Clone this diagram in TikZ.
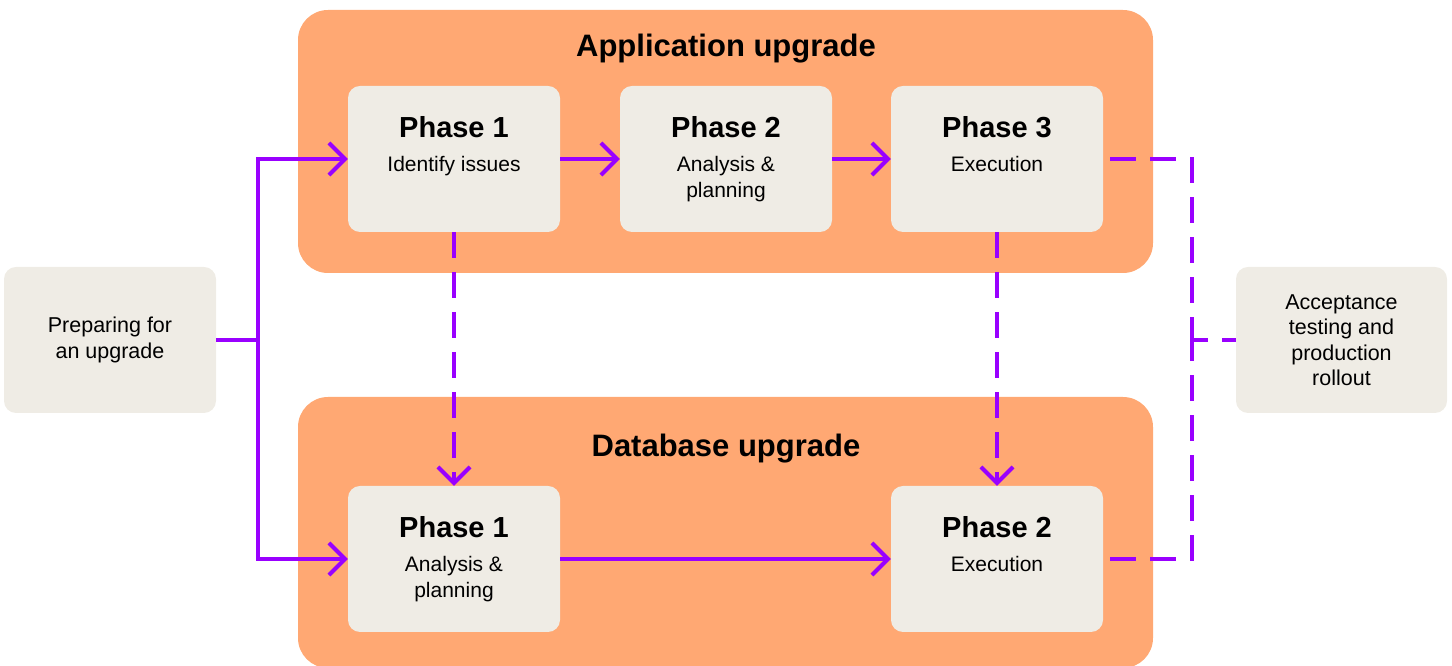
\documentclass[tikz,border=0pt]{standalone}
\usepackage{fontspec}
\setmainfont{Liberation Sans}
\usetikzlibrary{arrows.meta}

\begin{document}
\begin{tikzpicture}[x=1pt,y=1pt,
  group/.style={fill=groupColor,rounded corners=30pt,inner sep=0pt},
  box/.style={fill=boxColor,rounded corners=12pt,inner sep=0pt,
    minimum width=212pt,minimum height=146pt,align=center,
    font=\fontsize{21.5}{25.5}\selectfont},
  grouptitle/.style={anchor=base,inner sep=0pt,font=\fontsize{31}{36}\selectfont\bfseries},
  phasetitle/.style={anchor=base,inner sep=0pt,font=\fontsize{29}{34}\selectfont\bfseries},
  phasetext/.style={anchor=north,inner sep=0pt,align=center,font=\fontsize{21}{26}\selectfont},
  flow/.style={draw=flowColor,line width=4pt},
  dashflow/.style={flow,dash pattern=on 26pt off 14pt},
  tip/.style={-{Straight Barb[length=16pt,width=32pt]}}]
\definecolor{groupColor}{RGB}{255,168,115}
\definecolor{boxColor}{RGB}{239,236,229}
\definecolor{flowColor}{RGB}{153,0,255}
\path[use as bounding box] (0,0) rectangle (1452,666);
\begin{scope}
\path[clip] (0,0) rectangle (1452,666);

% the two upgrade tracks
\node[group,minimum width=855pt,minimum height=263pt] (app) at (725.5,524.5) {};
\node[group,minimum width=855pt,minimum height=271pt] (db) at (725.5,133.5) {};
\node[grouptitle] (apptitle) at (726,609) {Application upgrade};
\node[grouptitle] (dbtitle) at (726,209) {Database upgrade};

% phases
\node[box] (a1) at (454,507) {};
\node[box] (a2) at (726,507) {};
\node[box] (a3) at (997,507) {};
\node[box] (d1) at (454,107) {};
\node[box] (d2) at (997,107) {};

\node[phasetitle] (a1t) at ([yshift=-52pt]a1.north) {Phase 1};
\node[phasetext] (a1s) at ([yshift=-70pt]a1.north) {Identify issues};
\node[phasetitle] (a2t) at ([yshift=-52pt]a2.north) {Phase 2};
\node[phasetext] (a2s) at ([yshift=-70pt]a2.north) {Analysis \&\\planning};
\node[phasetitle] (a3t) at ([yshift=-52pt]a3.north) {Phase 3};
\node[phasetext] (a3s) at ([yshift=-70pt]a3.north) {Execution};
\node[phasetitle] (d1t) at ([yshift=-52pt]d1.north) {Phase 1};
\node[phasetext] (d1s) at ([yshift=-70pt]d1.north) {Analysis \&\\planning};
\node[phasetitle] (d2t) at ([yshift=-52pt]d2.north) {Phase 2};
\node[phasetext] (d2s) at ([yshift=-70pt]d2.north) {Execution};

% start and end
\node[box] (prep) at (110,326) {Preparing for\\an upgrade};
\node[box,minimum width=211pt] (accept) at (1341.5,326) {Acceptance\\testing and\\production\\rollout};

\coordinate (split) at (258,326);
\coordinate (merge) at (1192,326);

% solid flow
\draw[flow] (prep.east) -- (split);
\draw[flow,tip] (split) |- (a1.west);
\draw[flow,tip] (split) |- (d1.west);
\draw[flow,tip] (a1.east) -- (a2.west);
\draw[flow,tip] (a2.east) -- (a3.west);
\draw[flow,tip] (d1.east) -- (d2.west);

% dashed links
\draw[dashflow,tip] (a1.south) -- (d1.north);
\draw[dashflow,tip] (a3.south) -- (d2.north);
\draw[dashflow] ([xshift=7pt]a3.east) -| (merge);
\draw[dashflow] ([xshift=7pt]d2.east) -| (merge);
\draw[dashflow,dash phase=10pt] (merge) -- (accept.west);
\end{scope}
\end{tikzpicture}
\end{document}
